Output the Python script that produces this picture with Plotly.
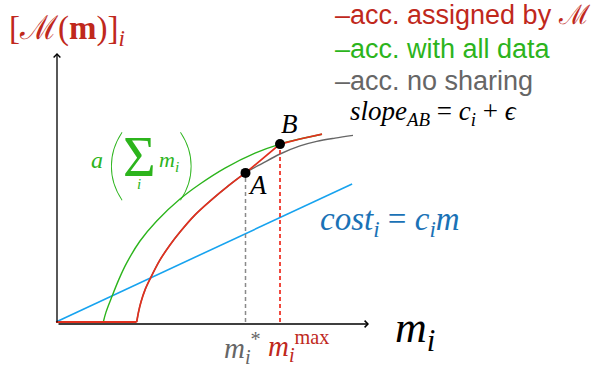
import plotly.graph_objects as go

# ---- data (m on x, accuracy on y) ----
green_x = [1.577, 1.667, 1.857, 2.1, 2.357, 2.8, 3.357, 4.133, 4.8, 5.633, 6.633, 7.467, 8.133, 8.867]
green_y = [0.0, 0.033, 0.083, 0.143, 0.197, 0.27, 0.337, 0.41, 0.46, 0.513, 0.563, 0.593, 0.61, 0.626]

flat_x = [0.0, 2.69]
flat_y = [0.0, 0.0]

gray_x = [2.69, 2.75, 2.833, 2.967, 3.133, 3.467, 3.8, 4.133, 4.633, 5.133, 5.733, 6.317,
          6.867, 7.467, 8.133, 8.69, 9.3, 9.9]
gray_y = [0.0, 0.033, 0.067, 0.107, 0.143, 0.207, 0.257, 0.3, 0.357, 0.403, 0.453, 0.497,
          0.528, 0.56, 0.587, 0.602, 0.613, 0.622]

red_x = [2.69, 2.75, 2.833, 2.967, 3.133, 3.467, 3.8, 4.133, 4.633, 5.133, 5.733, 6.317]
red_y = [0.0, 0.033, 0.067, 0.107, 0.143, 0.207, 0.257, 0.3, 0.357, 0.403, 0.453, 0.497]
red_tail_x = [6.317, 7.467, 8.133, 8.867]
red_tail_y = [0.497, 0.593, 0.61, 0.626]

cost_x = [0.0, 9.87]
cost_y = [0.0, 0.46]

pt_labels = ["A", "B"]
pt_x = [6.317, 7.467]
pt_y = [0.497, 0.593]

RED = "#c0281c"
RED_LINE = "#e2301e"
GREEN = "#2cb41c"
GRAY = "#666666"
BLUE_LINE = "#17a3ef"
BLUE_TXT = "#1a72b6"

W, H = 601, 367
X0, Y0, SX, SY = 56, 322, 30.0, 300.0


def P(xp, yp):
    return (xp - X0) / SX, (Y0 - yp) / SY


fig = go.Figure()

fig.add_trace(go.Scatter(x=cost_x, y=cost_y, mode="lines", line=dict(color=BLUE_LINE, width=1.6), hoverinfo="skip"))
fig.add_trace(go.Scatter(x=green_x, y=green_y, mode="lines", line=dict(color=GREEN, width=1.4, shape="spline", smoothing=1), hoverinfo="skip"))
fig.add_trace(go.Scatter(x=gray_x, y=gray_y, mode="lines", line=dict(color=GRAY, width=1.4, shape="spline", smoothing=1), hoverinfo="skip"))
fig.add_trace(go.Scatter(x=flat_x, y=flat_y, mode="lines", line=dict(color=RED_LINE, width=1.8), hoverinfo="skip"))
fig.add_trace(go.Scatter(x=red_x, y=red_y, mode="lines", line=dict(color=RED_LINE, width=1.7, shape="spline", smoothing=1), hoverinfo="skip"))
fig.add_trace(go.Scatter(x=red_tail_x, y=red_tail_y, mode="lines", line=dict(color=RED_LINE, width=1.7), hoverinfo="skip"))

# dashed drops
fig.add_trace(go.Scatter(x=[pt_x[0], pt_x[0]], y=[0, pt_y[0]], mode="lines", line=dict(color="#8a8a8a", width=1.5, dash="4px,3px"), hoverinfo="skip"))
fig.add_trace(go.Scatter(x=[pt_x[1], pt_x[1]], y=[0, pt_y[1]], mode="lines", line=dict(color="#ee2a1e", width=1.7, dash="4px,3px"), hoverinfo="skip"))

fig.add_trace(go.Scatter(x=pt_x, y=pt_y, mode="markers", marker=dict(color="black", size=10), hoverinfo="skip"))

# axes with arrows
ax_end_x = P(369, 324)
ax_end_y = P(57, 53)
base = P(57, 324)
fig.add_annotation(x=ax_end_x[0], y=base[1], ax=base[0], ay=base[1], xref="x", yref="y", axref="x", ayref="y",
                   showarrow=True, arrowhead=4, arrowsize=1.0, arrowwidth=1.3, arrowcolor="black", text="")
fig.add_annotation(x=base[0], y=ax_end_y[1], ax=base[0], ay=base[1], xref="x", yref="y", axref="x", ayref="y",
                   showarrow=True, arrowhead=4, arrowsize=1.0, arrowwidth=1.3, arrowcolor="black", text="")

SERIF = "Liberation Serif"
SANS = "Liberation Sans"


def txt(xp, yp, text, size, color, family=SERIF, xanchor="center", weight=None):
    x, y = P(xp, yp)
    f = dict(family=family, size=size, color=color)
    if weight is not None:
        f["weight"] = weight
    fig.add_annotation(x=x, y=y, xref="x", yref="y", text=text, showarrow=False,
                       font=f, xanchor=xanchor, yanchor="middle")


# point labels
txt(257, 185, "<i>" + pt_labels[0] + "</i>", 27, "black")
txt(289, 124, "<i>" + pt_labels[1] + "</i>", 27, "black")

# y label
txt(7, 30, "[ℳ(<b>m</b>)]<sub><i>i</i></sub>", 33, RED, xanchor="left")

# legend text
txt(333, 15, "–acc. assigned by ℳ", 27, RED, family=SANS, xanchor="left")
txt(333, 49, "–acc. with all data", 27, GREEN, family=SANS, xanchor="left")
txt(333, 81, "–acc. no sharing", 27, GRAY, family=SANS, xanchor="left")
txt(348, 113, "<i>slope<sub>AB</sub></i> = <i>c<sub>i</sub></i> + <i>ϵ</i>", 27, "black", xanchor="left")

# a(sum m_i)
txt(97, 160, "<i>a</i>", 24, GREEN)
txt(116, 161, "(", 78, GREEN, family="Lato", weight=200)
txt(139, 157, "Σ", 56, GREEN)
txt(139, 184, "<i>i</i>", 15, GREEN)
txt(169, 161, "<i>m<sub>i</sub></i>", 22, GREEN)
txt(187, 161, ")", 78, GREEN, family="Lato", weight=200)

# cost
txt(318, 221, "<i>cost<sub>i</sub></i> = <i>c<sub>i</sub>m</i>", 33, BLUE_TXT, xanchor="left")

# x label
txt(415, 330, "<i>m<sub>i</sub></i>", 44, "black")

# m_i^* and m_i^max
txt(242, 348, "<i>m<sub>i</sub></i><sup>*</sup>", 29, GRAY)
txt(299, 346, "<i>m<sub>i</sub></i><sup>max</sup>", 29, RED)

xr = P(0, 0)[0], P(W, 0)[0]
yr = P(0, H)[1], P(0, 0)[1]
fig.update_layout(
    width=W, height=H, margin=dict(l=0, r=0, t=0, b=0),
    paper_bgcolor="white", plot_bgcolor="white", showlegend=False,
    xaxis=dict(range=list(xr), visible=False, fixedrange=True),
    yaxis=dict(range=list(yr), visible=False, fixedrange=True),
)
fig.write_html("out.html", config={"displayModeBar": False},
               post_script="document.body.style.margin='0px';")
